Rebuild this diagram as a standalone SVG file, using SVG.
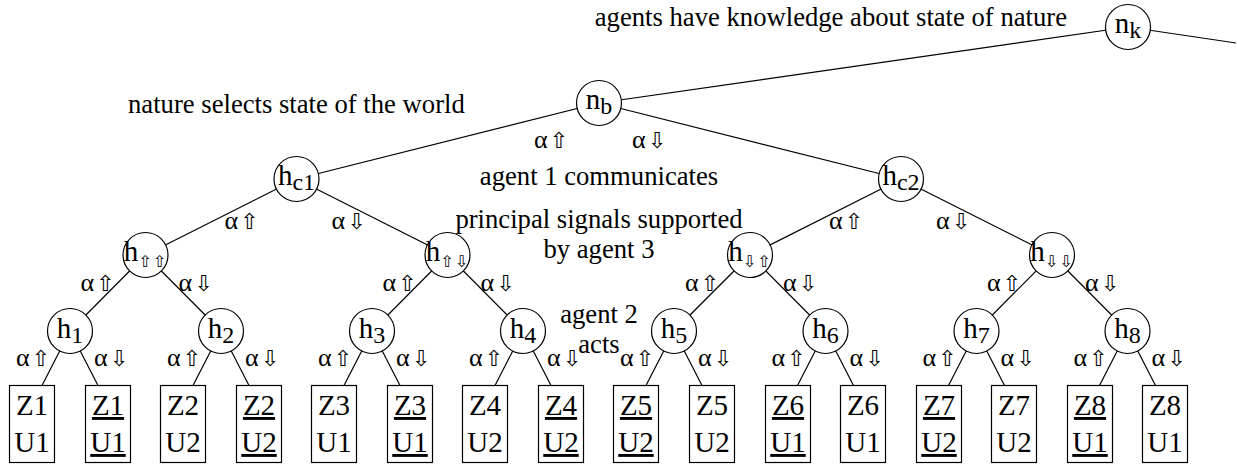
<svg xmlns="http://www.w3.org/2000/svg" width="1237" height="465" viewBox="0 0 1237 465">
<style>
.ln{stroke:#000;stroke-width:1.2;fill:none}
.nd{fill:#fff;stroke:#000;stroke-width:1.2}
.bx{fill:#fff;stroke:#000;stroke-width:1.2}
.ann{font-size:26.67px;text-anchor:middle}
.nl{font-size:29px;text-anchor:middle}
.sub{font-size:24px}
.sa{font-family:"DejaVu Sans",sans-serif;font-size:16px;letter-spacing:1px}
.al{font-size:26px}
.ar{font-family:"DejaVu Sans",sans-serif;font-size:22px}
.up{text-anchor:end}
.dn{text-anchor:start}
.lf{font-size:29px;text-anchor:middle}
.u{text-decoration:underline}
</style>
<g id="connectors">
<line class="ln" x1="1128" y1="27" x2="1236" y2="43"/>
<line class="ln" x1="1128" y1="27" x2="599" y2="103"/>
<line class="ln" x1="599" y1="103" x2="296.5" y2="179"/>
<line class="ln" x1="599" y1="103" x2="901" y2="179"/>
<line class="ln" x1="296.5" y1="179" x2="145.5" y2="255"/>
<line class="ln" x1="296.5" y1="179" x2="447.5" y2="255"/>
<line class="ln" x1="901" y1="179" x2="750" y2="255"/>
<line class="ln" x1="901" y1="179" x2="1052" y2="255"/>
<line class="ln" x1="145.5" y1="255" x2="70" y2="331"/>
<line class="ln" x1="145.5" y1="255" x2="221" y2="331"/>
<line class="ln" x1="447.5" y1="255" x2="372" y2="331"/>
<line class="ln" x1="447.5" y1="255" x2="523" y2="331"/>
<line class="ln" x1="750" y1="255" x2="674" y2="331"/>
<line class="ln" x1="750" y1="255" x2="825.5" y2="331"/>
<line class="ln" x1="1052" y1="255" x2="976.5" y2="331"/>
<line class="ln" x1="1052" y1="255" x2="1127.5" y2="331"/>
<line class="ln" x1="70" y1="331" x2="42" y2="385.5"/>
<line class="ln" x1="70" y1="331" x2="98" y2="385.5"/>
<line class="ln" x1="221" y1="331" x2="193" y2="385.5"/>
<line class="ln" x1="221" y1="331" x2="249" y2="385.5"/>
<line class="ln" x1="372" y1="331" x2="344" y2="385.5"/>
<line class="ln" x1="372" y1="331" x2="400" y2="385.5"/>
<line class="ln" x1="523" y1="331" x2="495" y2="385.5"/>
<line class="ln" x1="523" y1="331" x2="551" y2="385.5"/>
<line class="ln" x1="674" y1="331" x2="646" y2="385.5"/>
<line class="ln" x1="674" y1="331" x2="702" y2="385.5"/>
<line class="ln" x1="825.5" y1="331" x2="797.5" y2="385.5"/>
<line class="ln" x1="825.5" y1="331" x2="853.5" y2="385.5"/>
<line class="ln" x1="976.5" y1="331" x2="948.5" y2="385.5"/>
<line class="ln" x1="976.5" y1="331" x2="1004.5" y2="385.5"/>
<line class="ln" x1="1127.5" y1="331" x2="1099.5" y2="385.5"/>
<line class="ln" x1="1127.5" y1="331" x2="1155.5" y2="385.5"/>
</g>
<g font-family="'Liberation Serif', 'Times New Roman', 'DejaVu Serif', serif" fill="#000">
<g id="edge-labels">
<text class="al up" x="568" y="148">α<tspan class="ar" dx="2">⇧</tspan></text>
<text class="al dn" x="632" y="148">α<tspan class="ar" dx="2">⇩</tspan></text>
<text class="al up" x="258.5" y="229">α<tspan class="ar" dx="2">⇧</tspan></text>
<text class="al dn" x="331.5" y="229">α<tspan class="ar" dx="2">⇩</tspan></text>
<text class="al up" x="863" y="229">α<tspan class="ar" dx="2">⇧</tspan></text>
<text class="al dn" x="936" y="229">α<tspan class="ar" dx="2">⇩</tspan></text>
<text class="al up" x="114.5" y="291">α<tspan class="ar" dx="2">⇧</tspan></text>
<text class="al dn" x="178.5" y="291">α<tspan class="ar" dx="2">⇩</tspan></text>
<text class="al up" x="416.5" y="291">α<tspan class="ar" dx="2">⇧</tspan></text>
<text class="al dn" x="480.5" y="291">α<tspan class="ar" dx="2">⇩</tspan></text>
<text class="al up" x="719" y="291">α<tspan class="ar" dx="2">⇧</tspan></text>
<text class="al dn" x="783" y="291">α<tspan class="ar" dx="2">⇩</tspan></text>
<text class="al up" x="1021" y="291">α<tspan class="ar" dx="2">⇧</tspan></text>
<text class="al dn" x="1085" y="291">α<tspan class="ar" dx="2">⇩</tspan></text>
<text class="al up" x="50" y="366">α<tspan class="ar" dx="2">⇧</tspan></text>
<text class="al dn" x="94" y="366">α<tspan class="ar" dx="2">⇩</tspan></text>
<text class="al up" x="201" y="366">α<tspan class="ar" dx="2">⇧</tspan></text>
<text class="al dn" x="245" y="366">α<tspan class="ar" dx="2">⇩</tspan></text>
<text class="al up" x="352" y="366">α<tspan class="ar" dx="2">⇧</tspan></text>
<text class="al dn" x="396" y="366">α<tspan class="ar" dx="2">⇩</tspan></text>
<text class="al up" x="503" y="366">α<tspan class="ar" dx="2">⇧</tspan></text>
<text class="al dn" x="547" y="366">α<tspan class="ar" dx="2">⇩</tspan></text>
<text class="al up" x="654" y="366">α<tspan class="ar" dx="2">⇧</tspan></text>
<text class="al dn" x="698" y="366">α<tspan class="ar" dx="2">⇩</tspan></text>
<text class="al up" x="805.5" y="366">α<tspan class="ar" dx="2">⇧</tspan></text>
<text class="al dn" x="849.5" y="366">α<tspan class="ar" dx="2">⇩</tspan></text>
<text class="al up" x="956.5" y="366">α<tspan class="ar" dx="2">⇧</tspan></text>
<text class="al dn" x="1000.5" y="366">α<tspan class="ar" dx="2">⇩</tspan></text>
<text class="al up" x="1107.5" y="366">α<tspan class="ar" dx="2">⇧</tspan></text>
<text class="al dn" x="1151.5" y="366">α<tspan class="ar" dx="2">⇩</tspan></text>
</g>
<g id="annotations">
<text x="1067" y="26" font-size="26.67" text-anchor="end">agents have knowledge about state of nature</text>
<text x="128" y="113" font-size="26.67">nature selects state of the world</text>
<text class="ann" x="599" y="185">agent 1 communicates</text>
<text class="ann" x="599" y="228">principal signals supported</text>
<text class="ann" x="599" y="258">by agent 3</text>
<text class="ann" x="599" y="323">agent 2</text>
<text class="ann" x="599" y="353">acts</text>
</g>
<g id="n_k"><circle class="nd" cx="1128" cy="27" r="22.5"/><text class="nl" x="1128" y="33">n<tspan class="sub" dy="5">k</tspan></text></g>
<g id="n_b"><circle class="nd" cx="599" cy="103" r="22.5"/><text class="nl" x="599" y="109">n<tspan class="sub" dy="5">b</tspan></text></g>
<g id="h_c1"><circle class="nd" cx="296.5" cy="179" r="22.5"/><text class="nl" x="296.5" y="185">h<tspan class="sub" dy="5">c1</tspan></text></g>
<g id="h_c2"><circle class="nd" cx="901" cy="179" r="22.5"/><text class="nl" x="901" y="185">h<tspan class="sub" dy="5">c2</tspan></text></g>
<g id="h_uu"><circle class="nd" cx="145.5" cy="255" r="22.5"/><text class="nl" x="145.5" y="261">h<tspan class="sa" dy="6">⇧⇧</tspan></text></g>
<g id="h_ud"><circle class="nd" cx="447.5" cy="255" r="22.5"/><text class="nl" x="447.5" y="261">h<tspan class="sa" dy="6">⇧⇩</tspan></text></g>
<g id="h_du"><circle class="nd" cx="750" cy="255" r="22.5"/><text class="nl" x="750" y="261">h<tspan class="sa" dy="6">⇩⇧</tspan></text></g>
<g id="h_dd"><circle class="nd" cx="1052" cy="255" r="22.5"/><text class="nl" x="1052" y="261">h<tspan class="sa" dy="6">⇩⇩</tspan></text></g>
<g id="h_1"><circle class="nd" cx="70" cy="331" r="22.5"/><text class="nl" x="70" y="338">h<tspan class="sub" dy="5">1</tspan></text></g>
<g id="h_2"><circle class="nd" cx="221" cy="331" r="22.5"/><text class="nl" x="221" y="338">h<tspan class="sub" dy="5">2</tspan></text></g>
<g id="h_3"><circle class="nd" cx="372" cy="331" r="22.5"/><text class="nl" x="372" y="338">h<tspan class="sub" dy="5">3</tspan></text></g>
<g id="h_4"><circle class="nd" cx="523" cy="331" r="22.5"/><text class="nl" x="523" y="338">h<tspan class="sub" dy="5">4</tspan></text></g>
<g id="h_5"><circle class="nd" cx="674" cy="331" r="22.5"/><text class="nl" x="674" y="338">h<tspan class="sub" dy="5">5</tspan></text></g>
<g id="h_6"><circle class="nd" cx="825.5" cy="331" r="22.5"/><text class="nl" x="825.5" y="338">h<tspan class="sub" dy="5">6</tspan></text></g>
<g id="h_7"><circle class="nd" cx="976.5" cy="331" r="22.5"/><text class="nl" x="976.5" y="338">h<tspan class="sub" dy="5">7</tspan></text></g>
<g id="h_8"><circle class="nd" cx="1127.5" cy="331" r="22.5"/><text class="nl" x="1127.5" y="338">h<tspan class="sub" dy="5">8</tspan></text></g>
<g id="leaf1"><rect class="bx" x="9.5" y="385.5" width="45" height="77"/><text class="lf" x="32" y="415">Z1</text><text class="lf" x="32" y="452">U1</text></g>
<g id="leaf2"><rect class="bx" x="85.5" y="385.5" width="45" height="77"/><text class="lf u" x="108" y="415">Z1</text><text class="lf u" x="108" y="452">U1</text></g>
<g id="leaf3"><rect class="bx" x="160.5" y="385.5" width="45" height="77"/><text class="lf" x="183" y="415">Z2</text><text class="lf" x="183" y="452">U2</text></g>
<g id="leaf4"><rect class="bx" x="236.5" y="385.5" width="45" height="77"/><text class="lf u" x="259" y="415">Z2</text><text class="lf u" x="259" y="452">U2</text></g>
<g id="leaf5"><rect class="bx" x="311.5" y="385.5" width="45" height="77"/><text class="lf" x="334" y="415">Z3</text><text class="lf" x="334" y="452">U1</text></g>
<g id="leaf6"><rect class="bx" x="387.5" y="385.5" width="45" height="77"/><text class="lf u" x="410" y="415">Z3</text><text class="lf u" x="410" y="452">U1</text></g>
<g id="leaf7"><rect class="bx" x="462.5" y="385.5" width="45" height="77"/><text class="lf" x="485" y="415">Z4</text><text class="lf" x="485" y="452">U2</text></g>
<g id="leaf8"><rect class="bx" x="538.5" y="385.5" width="45" height="77"/><text class="lf u" x="561" y="415">Z4</text><text class="lf u" x="561" y="452">U2</text></g>
<g id="leaf9"><rect class="bx" x="613.5" y="385.5" width="45" height="77"/><text class="lf u" x="636" y="415">Z5</text><text class="lf u" x="636" y="452">U2</text></g>
<g id="leaf10"><rect class="bx" x="689.5" y="385.5" width="45" height="77"/><text class="lf" x="712" y="415">Z5</text><text class="lf" x="712" y="452">U2</text></g>
<g id="leaf11"><rect class="bx" x="765.5" y="385.5" width="45" height="77"/><text class="lf u" x="788" y="415">Z6</text><text class="lf u" x="788" y="452">U1</text></g>
<g id="leaf12"><rect class="bx" x="840.5" y="385.5" width="45" height="77"/><text class="lf" x="863" y="415">Z6</text><text class="lf" x="863" y="452">U1</text></g>
<g id="leaf13"><rect class="bx" x="916.5" y="385.5" width="45" height="77"/><text class="lf u" x="939" y="415">Z7</text><text class="lf u" x="939" y="452">U2</text></g>
<g id="leaf14"><rect class="bx" x="991.5" y="385.5" width="45" height="77"/><text class="lf" x="1014" y="415">Z7</text><text class="lf" x="1014" y="452">U2</text></g>
<g id="leaf15"><rect class="bx" x="1067.5" y="385.5" width="45" height="77"/><text class="lf u" x="1090" y="415">Z8</text><text class="lf u" x="1090" y="452">U1</text></g>
<g id="leaf16"><rect class="bx" x="1142.5" y="385.5" width="45" height="77"/><text class="lf" x="1165" y="415">Z8</text><text class="lf" x="1165" y="452">U1</text></g>
</g>
</svg>
